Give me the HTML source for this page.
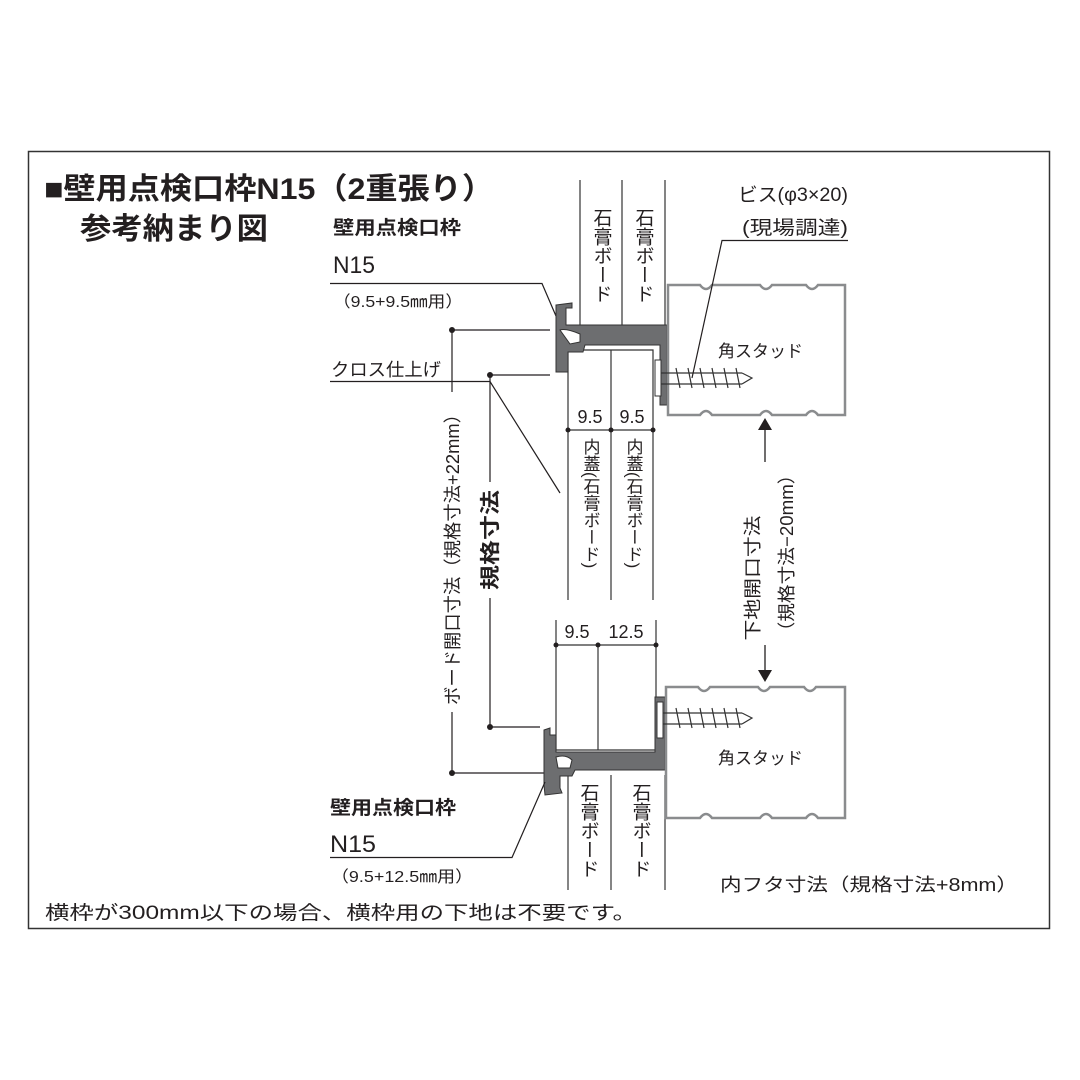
<!DOCTYPE html>
<html><head><meta charset="utf-8"><style>
html,body{margin:0;padding:0;background:#fff;}
svg{display:block;}
text{font-family:"Liberation Sans","Noto Sans CJK JP",sans-serif;fill:#231f20;}
.v{writing-mode:vertical-rl;}
</style></head><body>
<svg width="1080" height="1080" viewBox="0 0 1080 1080" xmlns="http://www.w3.org/2000/svg">
<rect x="28.5" y="151.5" width="1021" height="777" fill="#fff" stroke="#333" stroke-width="1.5"/>
<text x="44" y="199" font-size="30" font-weight="bold" textLength="450" lengthAdjust="spacingAndGlyphs">■壁用点検口枠N15（2重張り）</text>
<text x="80" y="239" font-size="30" font-weight="bold" textLength="188" lengthAdjust="spacingAndGlyphs">参考納まり図</text>

<!-- top-left labels -->
<text x="333" y="234" font-size="19" font-weight="bold" textLength="128" lengthAdjust="spacingAndGlyphs">壁用点検口枠</text>
<text x="333" y="273" font-size="24" textLength="42" lengthAdjust="spacingAndGlyphs">N15</text>
<text x="333" y="307" font-size="16" textLength="130" lengthAdjust="spacingAndGlyphs">（9.5+9.5㎜用）</text>
<polyline points="330,283.5 542,283.5 562,330" fill="none" stroke="#231f20" stroke-width="1.2"/>
<text x="331" y="376" font-size="18" textLength="110" lengthAdjust="spacingAndGlyphs">クロス仕上げ</text>
<polyline points="330,381.5 490,381.5 560,493" fill="none" stroke="#231f20" stroke-width="1.2"/>

<!-- dims left -->
<g stroke="#231f20" stroke-width="1.2" fill="none">
<polyline points="550,330 452,330 452,392"/>
<polyline points="452,712 452,773 545,773"/>
<polyline points="550,375 490,375 490,482"/>
<polyline points="490,598 490,727 540,727"/>
</g>
<g fill="#231f20">
<circle cx="452" cy="330" r="3"/><circle cx="490" cy="375" r="3"/>
<circle cx="452" cy="773" r="3"/><circle cx="490" cy="727" r="3"/>
</g>
<text transform="translate(459,555) rotate(-90)" font-size="18" text-anchor="middle" textLength="300" lengthAdjust="spacingAndGlyphs">ボード開口寸法（規格寸法+22mm）</text>
<text transform="translate(497,540) rotate(-90)" font-size="20" font-weight="bold" text-anchor="middle" textLength="100" lengthAdjust="spacingAndGlyphs">規格寸法</text>

<!-- top boards -->
<g stroke="#333" stroke-width="1.2" fill="none">
<line x1="580" y1="180" x2="580" y2="326"/>
<line x1="622" y1="180" x2="622" y2="326"/>
<line x1="665" y1="180" x2="665" y2="326"/>
<polyline points="568,600 568,350 653,350 653,600"/>
<line x1="611" y1="350" x2="611" y2="600"/>
<line x1="568" y1="430" x2="653" y2="430"/>
</g>
<g fill="#231f20"><circle cx="568" cy="430" r="2.5"/><circle cx="611" cy="430" r="2.5"/><circle cx="653" cy="430" r="2.5"/></g>
<text x="590" y="423" font-size="18" text-anchor="middle">9.5</text>
<text x="632" y="423" font-size="18" text-anchor="middle">9.5</text>
<text class="v" x="601" y="208" font-size="19">石膏ボード</text>
<text class="v" x="643" y="208" font-size="19">石膏ボード</text>
<text class="v" x="590" y="438" font-size="17">内蓋(石膏ボード)</text>
<text class="v" x="633" y="438" font-size="17">内蓋(石膏ボード)</text>

<!-- top frame profile -->
<g fill="#6d6e70" stroke="#333" stroke-width="1">
<path d="M556,305 L572,303 L572,308 L566,308 L566,325 L667,325 L667,405 L660,405 L660,345 L585,345 L583,352 L568,352 L568,372 L556,372 Z"/>
<path d="M560,330 Q566,328 580,334 L580,342 L570,344 Z" fill="#fff"/>
</g>
<rect x="655" y="360" width="6" height="36" fill="#fff" stroke="#333"/>

<!-- top stud -->
<path d="M668,285 H700 q6,8 12,0 H760 q6,8 12,0 H806 q6,8 12,0 H845 V415 H818 q-6,-8 -12,0 H772 q-6,-8 -12,0 H712 q-6,-8 -12,0 H668 Z" fill="#fff" stroke="#8a8c8e" stroke-width="2.5"/>
<text x="718" y="357" font-size="17">角スタッド</text>
<g stroke="#333" stroke-width="1.2" fill="none">
<line x1="661" y1="373" x2="742" y2="373"/><line x1="661" y1="384" x2="742" y2="384"/>
<polyline points="742,373 752,378 742,384"/>
<path d="M676,368 l4,20 M688,368 l4,20 M700,368 l4,20 M712,368 l4,20 M724,368 l4,20 M736,368 l4,20"/>
</g>
<text x="738" y="201" font-size="19" textLength="110" lengthAdjust="spacingAndGlyphs">ビス(φ3×20)</text>
<text x="742" y="234" font-size="19" textLength="106" lengthAdjust="spacingAndGlyphs">(現場調達)</text>
<polyline points="848,240.5 722,240.5 692,378" fill="none" stroke="#231f20" stroke-width="1.2"/>

<!-- right dimension -->
<g stroke="#231f20" stroke-width="1.3"><line x1="765" y1="428" x2="765" y2="462"/><line x1="765" y1="645" x2="765" y2="672"/></g>
<path d="M758,430 L765,418 L772,430 Z M758,670 L765,682 L772,670 Z" fill="#231f20"/>
<text transform="translate(759,578) rotate(-90)" font-size="18" text-anchor="middle" textLength="125" lengthAdjust="spacingAndGlyphs">下地開口寸法</text>
<text transform="translate(793,553) rotate(-90)" font-size="18" text-anchor="middle" textLength="175" lengthAdjust="spacingAndGlyphs">（規格寸法−20mm）</text>

<!-- bottom dim -->
<g stroke="#333" stroke-width="1.2" fill="none">
<line x1="556" y1="620" x2="556" y2="750"/>
<line x1="656" y1="620" x2="656" y2="750"/>
<line x1="598" y1="645" x2="598" y2="750"/>
<line x1="556" y1="645" x2="656" y2="645"/>
<line x1="556" y1="750" x2="656" y2="750"/>
<line x1="568" y1="775" x2="568" y2="890"/>
<line x1="611" y1="775" x2="611" y2="890"/>
<line x1="665" y1="775" x2="665" y2="890"/>
</g>
<g fill="#231f20"><circle cx="556" cy="645" r="2.5"/><circle cx="598" cy="645" r="2.5"/><circle cx="656" cy="645" r="2.5"/></g>
<text x="577" y="638" font-size="18" text-anchor="middle">9.5</text>
<text x="626" y="638" font-size="18" text-anchor="middle">12.5</text>
<text class="v" x="588" y="783" font-size="19">石膏ボード</text>
<text class="v" x="640" y="783" font-size="19">石膏ボード</text>

<!-- bottom frame -->
<g fill="#6d6e70" stroke="#333" stroke-width="1">
<path d="M544,730 L550,728 L550,735 L556,735 L556,752 L655,752 L655,697 L665,697 L665,770 L575,770 L572,776 L560,776 L560,788 L562,793 L545,795 L544,785 Z"/>
<path d="M556,757 Q566,754 572,760 L570,768 L558,768 Z" fill="#fff"/>
</g>
<rect x="657" y="702" width="6" height="36" fill="#fff" stroke="#333"/>

<!-- bottom stud -->
<path d="M666,687 H698 q6,8 12,0 H758 q6,8 12,0 H804 q6,8 12,0 H845 V818 H818 q-6,-8 -12,0 H772 q-6,-8 -12,0 H712 q-6,-8 -12,0 H666 Z" fill="#fff" stroke="#8a8c8e" stroke-width="2.5"/>
<text x="718" y="764" font-size="17">角スタッド</text>
<g stroke="#333" stroke-width="1.2" fill="none">
<line x1="663" y1="713" x2="742" y2="713"/><line x1="663" y1="724" x2="742" y2="724"/>
<polyline points="742,713 752,718 742,724"/>
<path d="M676,708 l4,20 M688,708 l4,20 M700,708 l4,20 M712,708 l4,20 M724,708 l4,20 M736,708 l4,20"/>
</g>

<!-- bottom labels -->
<text x="330" y="814" font-size="19" font-weight="bold" textLength="126" lengthAdjust="spacingAndGlyphs">壁用点検口枠</text>
<text x="330" y="852" font-size="24" textLength="46" lengthAdjust="spacingAndGlyphs">N15</text>
<polyline points="330,857.5 512,857.5 545,782" fill="none" stroke="#231f20" stroke-width="1.2"/>
<text x="331" y="882" font-size="16" textLength="142" lengthAdjust="spacingAndGlyphs">（9.5+12.5㎜用）</text>
<text x="720" y="891" font-size="18" textLength="298" lengthAdjust="spacingAndGlyphs">内フタ寸法（規格寸法+8mm）</text>
<text x="45" y="919" font-size="19" textLength="592" lengthAdjust="spacingAndGlyphs">横枠が300mm以下の場合、横枠用の下地は不要です。</text>
</svg>
</body></html>
